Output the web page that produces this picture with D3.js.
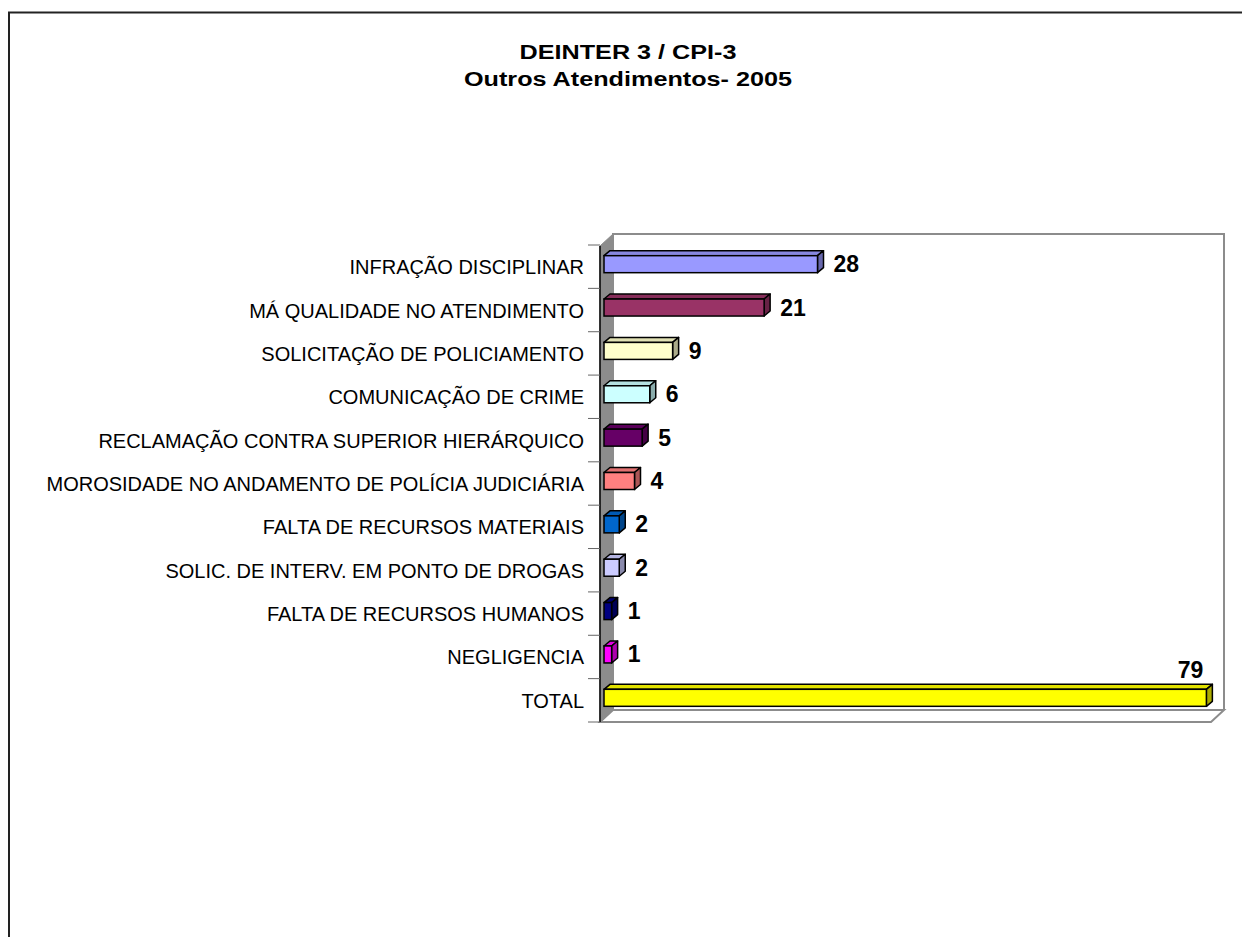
<!DOCTYPE html>
<html lang="pt">
<head>
    <meta charset="UTF-8">
    <title>DEINTER 3 / CPI-3 - Outros Atendimentos 2005</title>
    <script src="https://cdn.jsdelivr.net/npm/d3@7/dist/d3.min.js"></script>
    <style>
        body { margin: 0; background: #fff; }
        text { font-family: "Liberation Sans", Arial, sans-serif; }
    </style>
</head>
<body>
<script>
    // dados
    const categories = [
        'INFRAÇÃO DISCIPLINAR',
        'MÁ QUALIDADE NO ATENDIMENTO',
        'SOLICITAÇÃO DE POLICIAMENTO',
        'COMUNICAÇÃO DE CRIME',
        'RECLAMAÇÃO CONTRA SUPERIOR HIERÁRQUICO',
        'MOROSIDADE NO ANDAMENTO DE POLÍCIA JUDICIÁRIA',
        'FALTA DE RECURSOS MATERIAIS',
        'SOLIC. DE INTERV. EM PONTO DE DROGAS',
        'FALTA DE RECURSOS HUMANOS',
        'NEGLIGENCIA',
        'TOTAL'
    ];
    const values = [28, 21, 9, 6, 5, 4, 2, 2, 1, 1, 79];
    const barColors = ['#9999FF', '#993366', '#FFFFCC', '#CCFFFF', '#660066', '#FF8080',
                       '#0066CC', '#CCCCFF', '#000080', '#FF00FF', '#FFFF00'];
    const titleLines = ['DEINTER 3 / CPI-3', 'Outros Atendimentos- 2005'];

    const width = 1242;
    const height = 937;

    const svg = d3.select('body')
        .append('svg')
        .attr('width', width)
        .attr('height', height);

    // moldura externa
    svg.append('rect')
        .attr('x', 9).attr('y', 12.5)
        .attr('width', 1300).attr('height', 1000)
        .attr('fill', 'none')
        .attr('stroke', '#222')
        .attr('stroke-width', 2);

    // título
    const title = svg.append('g')
        .attr('transform', 'translate(628,0) scale(1.2,1)');
    title.selectAll('text')
        .data(titleLines)
        .enter()
        .append('text')
        .attr('x', 0)
        .attr('y', (d, i) => 59 + i * 27)
        .attr('text-anchor', 'middle')
        .style('font-size', '21px')
        .style('font-weight', 'bold')
        .text(d => d);

    // área do gráfico (3D)
    const fx0 = 600, fx1 = 1211;    // frente
    const plotTop = 246, plotBottom = 722;
    const ddx = 13, ddy = -12;      // profundidade

    const x = d3.scaleLinear().domain([0, 80]).range([604, 1214]);
    const y = d3.scaleBand().domain(categories).range([245, plotBottom]);

    const frame = svg.append('g');
    // parede do fundo
    frame.append('path')
        .attr('d', `M${fx0 + ddx},${plotBottom + ddy} L${fx0 + ddx},${plotTop + ddy} L${fx1 + ddx},${plotTop + ddy} L${fx1 + ddx},${plotBottom + ddy}`)
        .attr('fill', 'none')
        .attr('stroke', '#8c8c8c')
        .attr('stroke-width', 2);
    // piso
    frame.append('path')
        .attr('d', `M${fx0},${plotBottom} L${fx1},${plotBottom} L${fx1 + ddx},${plotBottom + ddy} L${fx0 + ddx},${plotBottom + ddy} Z`)
        .attr('fill', '#fff')
        .attr('stroke', '#8c8c8c')
        .attr('stroke-width', 2);
    // parede lateral
    frame.append('path')
        .attr('d', `M${fx0},${plotTop} L${fx0 + ddx},${plotTop + ddy} L${fx0 + ddx},${plotBottom + ddy} L${fx0},${plotBottom} Z`)
        .attr('fill', '#8c8c8c')
        .attr('stroke', '#8c8c8c')
        .attr('stroke-width', 1);
    // eixo
    frame.append('line')
        .attr('x1', fx0).attr('x2', fx0)
        .attr('y1', plotTop).attr('y2', plotBottom)
        .attr('stroke', '#000')
        .attr('stroke-width', 1.5);

    // marcas do eixo de categorias
    const tickYs = categories.map(c => y(c)).concat([plotBottom]);
    svg.append('g')
        .selectAll('line')
        .data(tickYs)
        .enter()
        .append('line')
        .attr('x1', 588).attr('x2', fx0)
        .attr('y1', d => d).attr('y2', d => d)
        .attr('stroke', '#666')
        .attr('stroke-width', 1);

    // rótulos das categorias
    svg.append('g')
        .selectAll('text')
        .data(categories)
        .enter()
        .append('text')
        .attr('x', 584)
        .attr('y', d => y(d) + y.bandwidth() / 2 + 7.5)
        .attr('text-anchor', 'end')
        .style('font-size', '20px')
        .text(d => d);

    // barras
    const barH = 17, bdx = 6, bdy = -5;
    const bars = svg.append('g')
        .selectAll('g')
        .data(categories.map((c, i) => ({ name: c, value: values[i], color: barColors[i] })))
        .enter()
        .append('g');

    function frontY(d) {
        return y(d.name) + y.bandwidth() / 2 - 2.5 - barH / 2;
    }

    bars.each(function (d) {
        const g = d3.select(this);
        const x0 = x(0), x1 = x(d.value), y0 = frontY(d), y1 = y0 + barH;
        const c = d3.rgb(d.color);
        // topo
        g.append('path')
            .attr('d', `M${x0},${y0} L${x0 + bdx},${y0 + bdy} L${x1 + bdx},${y0 + bdy} L${x1},${y0} Z`)
            .attr('fill', c.darker(0.35))
            .attr('stroke', '#000')
            .attr('stroke-width', 1.5)
            .attr('stroke-linejoin', 'round');
        // lado
        g.append('path')
            .attr('d', `M${x1},${y0} L${x1 + bdx},${y0 + bdy} L${x1 + bdx},${y1 + bdy} L${x1},${y1} Z`)
            .attr('fill', c.darker(1.1))
            .attr('stroke', '#000')
            .attr('stroke-width', 1.5)
            .attr('stroke-linejoin', 'round');
        // frente
        g.append('rect')
            .attr('x', x0).attr('y', y0)
            .attr('width', x1 - x0).attr('height', barH)
            .attr('fill', d.color)
            .attr('stroke', '#000')
            .attr('stroke-width', 1.5);
    });

    // rótulos de valores
    bars.append('text')
        .style('font-size', '23px')
        .style('font-weight', 'bold')
        .each(function (d) {
            const t = d3.select(this);
            const xe = x(d.value) + bdx;
            const yc = frontY(d) + barH / 2;
            if (xe + 40 > fx1) {
                t.attr('x', x(d.value) - 3)
                 .attr('y', frontY(d) + bdy - 6)
                 .attr('text-anchor', 'end');
            } else {
                t.attr('x', xe + 10)
                 .attr('y', yc + 8)
                 .attr('text-anchor', 'start');
            }
        })
        .text(d => d.value);
</script>
</body>
</html>
